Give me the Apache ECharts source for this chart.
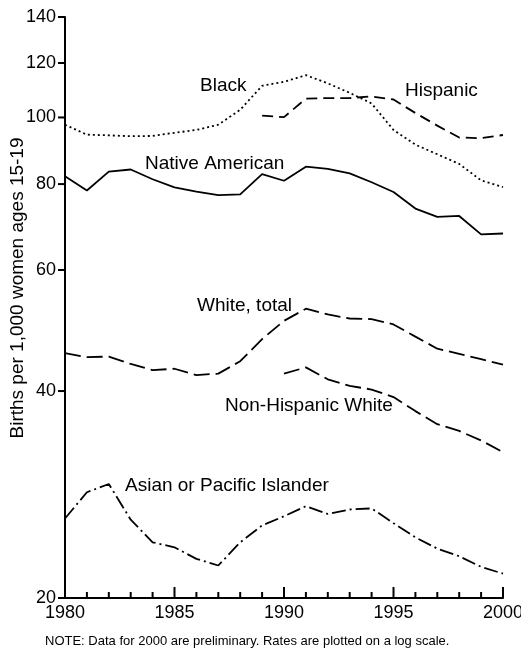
<!DOCTYPE html>
<html>
<head>
<meta charset="utf-8">
<script src="https://cdn.jsdelivr.net/npm/echarts@6/dist/echarts.min.js"></script>
<style>
  html, body { margin: 0; padding: 0; background: #fff; }
  .c { width: 521px; height: 655px; }
</style>
</head>
<body>
<div id="chart" class="c"></div>
<script>
// years on the x axis
const years = [1980, 1981, 1982, 1983, 1984, 1985, 1986, 1987, 1988, 1989, 1990,
  1991, 1992, 1993, 1994, 1995, 1996, 1997, 1998, 1999, 2000];
// births per 1,000 women ages 15-19
const black = [97.6, 94.4, 94.2, 93.9, 94.0, 95.0, 95.9, 97.6, 102.6, 111.2, 112.7,
  115.2, 112.1, 108.6, 104.8, 95.9, 91.3, 88.4, 85.6, 81.0, 79.2];
const hispanic = [null, null, null, null, null, null, null, null, null, 100.6, 100.1,
  106.5, 106.7, 106.7, 107.3, 106.2, 101.5, 97.3, 93.5, 93.3, 94.3];
const nativeAmerican = [82.1, 78.3, 83.4, 84.0, 81.3, 79.1, 78.0, 77.1, 77.3, 82.7, 80.9,
  84.8, 84.2, 82.9, 80.5, 77.9, 73.7, 71.7, 71.9, 67.6, 67.8];
const whiteTotal = [45.4, 44.8, 44.9, 43.8, 42.9, 43.1, 42.2, 42.4, 44.2, 47.6, 50.6,
  52.7, 51.7, 51.0, 50.9, 50.0, 48.0, 46.1, 45.3, 44.5, 43.7];
const nonHispWhite = [null, null, null, null, null, null, null, null, null, null, 42.4,
  43.3, 41.6, 40.7, 40.2, 39.2, 37.4, 35.8, 35.0, 33.9, 32.6];
const asianPI = [26.1, 28.5, 29.3, 26.0, 24.1, 23.7, 22.8, 22.3, 24.1, 25.5, 26.3,
  27.2, 26.5, 26.9, 27.0, 25.7, 24.5, 23.6, 23.0, 22.2, 21.7];

const yTicks = [20, 40, 60, 80, 100, 120, 140];

const pairs = arr => years.map((y, i) => [y, arr[i]]);
const font = '"Liberation Sans", Arial, Helvetica, sans-serif';

function makeLine(name, data, type) {
  return {
    name: name,
    type: 'line',
    data: pairs(data),
    symbol: 'none',
    connectNulls: false,
    lineStyle: { color: '#000', width: 1.8, type: type },
    silent: true
  };
}

function makeText(text, x, y) {
  return { type: 'text', left: x, top: y, style: { text: text, fill: '#000', font: '19px ' + font } };
}

// tick marks drawn through the axes' own scales
const xTickSeries = {
  type: 'custom',
  silent: true,
  clip: false,
  z: 5,
  data: years.map(y => [y, yTicks[0]]),
  encode: { x: 0, y: 1 },
  renderItem: (params, api) => {
    const p = api.coord([api.value(0), api.value(1)]);
    const len = api.value(0) % 5 === 0 ? 11 : 6;
    return {
      type: 'line',
      shape: { x1: p[0], y1: p[1], x2: p[0], y2: p[1] - len },
      style: { stroke: '#000', lineWidth: 2 }
    };
  }
};

const yTickSeries = {
  type: 'custom',
  silent: true,
  clip: false,
  z: 5,
  data: yTicks.map(v => [years[0], v]),
  encode: { x: 0, y: 1 },
  renderItem: (params, api) => {
    const p = api.coord([api.value(0), api.value(1)]);
    return {
      type: 'line',
      shape: { x1: p[0] - 7, y1: p[1], x2: p[0], y2: p[1] },
      style: { stroke: '#000', lineWidth: 2 }
    };
  }
};

const chart = echarts.init(document.getElementById('chart'), null, { renderer: 'canvas' });
chart.setOption({
  animation: false,
  grid: { left: 65, right: 18, top: 17, bottom: 57, containLabel: false, outerBoundsMode: 'none' },
  xAxis: {
    type: 'value', min: 1980, max: 2000, interval: 5,
    axisLine: { show: true, lineStyle: { color: '#000', width: 2 } },
    axisTick: { show: false },
    minorTick: { show: false },
    splitLine: { show: false },
    axisLabel: { color: '#000', fontSize: 18, fontFamily: font, margin: 6, formatter: v => String(v) }
  },
  yAxis: {
    type: 'log', logBase: 10, min: 20, max: 140,
    axisLine: { show: true, lineStyle: { color: '#000', width: 2 } },
    axisTick: { show: false },
    splitLine: { show: false },
    axisLabel: {
      color: '#000', fontSize: 18, fontFamily: font, margin: 9,
      customValues: yTicks, formatter: v => String(Math.round(v))
    }
  },
  series: [
    makeLine('Black', black, [2, 3]),
    makeLine('Hispanic', hispanic, [11, 6]),
    makeLine('Native American', nativeAmerican, 'solid'),
    makeLine('White, total', whiteTotal, [16, 6]),
    makeLine('Non-Hispanic White', nonHispWhite, [16, 6]),
    makeLine('Asian or Pacific Islander', asianPI, [14, 4, 2, 4]),
    xTickSeries,
    yTickSeries
  ],
  graphic: [
    {
      type: 'text', x: 18, y: 288, rotation: Math.PI / 2,
      style: {
        text: 'Births per 1,000 women ages 15-19', fill: '#000',
        font: '19px ' + font, align: 'center', verticalAlign: 'middle'
      }
    },
    makeText('Black', 200, 76),
    makeText('Hispanic', 405, 81),
    makeText('Native American', 145, 154),
    makeText('White, total', 197, 296),
    makeText('Non-Hispanic White', 225, 396),
    makeText('Asian or Pacific Islander', 125, 476),
    {
      type: 'text', left: 45, top: 635,
      style: {
        text: 'NOTE: Data for 2000 are preliminary. Rates are plotted on a log scale.',
        fill: '#000', font: '13px ' + font
      }
    }
  ]
});
</script>
</body>
</html>
